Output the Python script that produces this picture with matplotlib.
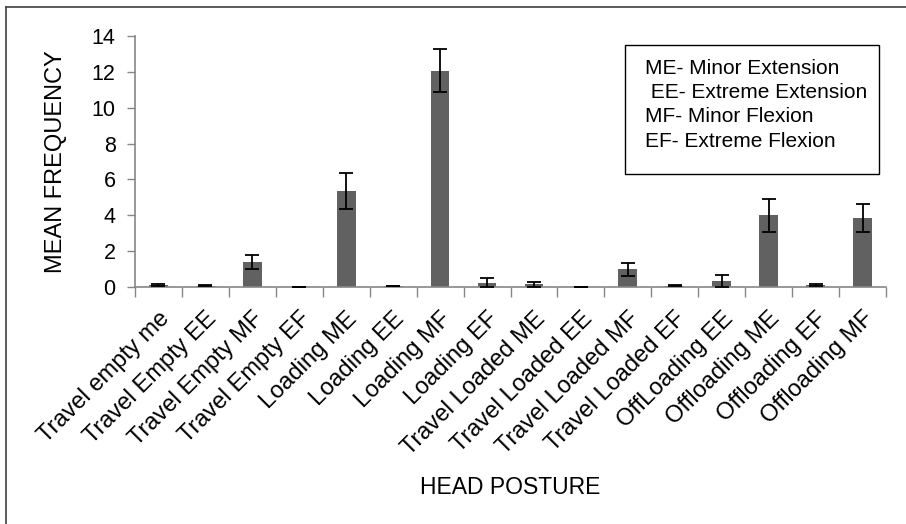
import matplotlib.pyplot as plt
from matplotlib.lines import Line2D
from matplotlib.patches import Rectangle
from matplotlib.transforms import ScaledTranslation
import numpy as np

# Data
categories = ['Travel empty me', 'Travel Empty EE', 'Travel Empty MF', 'Travel Empty EF',
              'Loading ME', 'Loading EE', 'Loading MF', 'Loading EF',
              'Travel Loaded ME', 'Travel Loaded EE', 'Travel Loaded MF', 'Travel Loaded EF',
              'OffLoading EE', 'Offloading ME', 'Offloading EF', 'Offloading MF']
means = [0.10, 0.08, 1.40, 0.02, 5.35, 0.05, 12.05, 0.25,
         0.15, 0.01, 0.98, 0.07, 0.35, 4.00, 0.10, 3.85]
errors = [0.06, 0.03, 0.40, 0.0, 1.02, 0.02, 1.20, 0.25,
          0.13, 0.0, 0.36, 0.04, 0.34, 0.92, 0.06, 0.80]
legend_lines = ['ME- Minor Extension', ' EE- Extreme Extension',
                'MF- Minor Flexion', 'EF- Extreme Flexion']

plt.rcParams['font.family'] = ['Liberation Sans', 'DejaVu Sans']

fig = plt.figure(figsize=(9.06, 5.24), dpi=100)
ax = fig.add_axes([135/906, 1-287/524, 751/906, 251/524])

x = np.arange(len(categories))
ax.bar(x, means, width=0.4, color='#616161', zorder=2)
ax.errorbar(x, means, yerr=errors, fmt='none', ecolor='black',
            elinewidth=1.3, capsize=5, capthick=1.3, zorder=3)

ax.set_xlim(-0.5, len(categories) - 0.5)
ax.set_ylim(0, 14)
ax.set_yticks(np.arange(0, 15, 2))

# category tick marks sit between bars
ax.set_xticks(np.arange(-0.5, len(categories), 1.0))
ax.set_xticklabels([])
ax.set_xticks(x, minor=True)
ax.set_xticklabels(categories, minor=True, rotation=45, ha='right',
                   rotation_mode='anchor', fontsize=17)
shift = ScaledTranslation(-0.06, 0, fig.dpi_scale_trans)
for lbl in ax.get_xticklabels(minor=True):
    lbl.set_transform(lbl.get_transform() + shift)
ax.tick_params(axis='x', which='minor', length=0, pad=15)
ax.tick_params(axis='x', which='major', length=7, color='#868686', width=1)
ax.tick_params(axis='y', length=6, color='#868686', width=1, labelsize=15.5, pad=8)

for side in ['top', 'right']:
    ax.spines[side].set_visible(False)
for side in ['left', 'bottom']:
    ax.spines[side].set_color('#868686')
    ax.spines[side].set_linewidth(1.2)

ax.set_ylabel('MEAN FREQUENCY', fontsize=17, labelpad=18)
fig.text(510/906, 1-487/524, 'HEAD POSTURE', fontsize=16.5, ha='center', va='center')

# text box with abbreviations
fig.add_artist(Rectangle((625/906, 1-174/524), 254/906, 129/524,
                         transform=fig.transFigure, fill=False,
                         edgecolor='black', linewidth=1))
for i, line in enumerate(legend_lines):
    fig.text(645/906, 1-(68 + i*24.5)/524, line, fontsize=15, va='center')

# outer frame (left and top edges)
fig.add_artist(Line2D([6/906, 6/906], [0, 1-7/524], transform=fig.transFigure,
                      color='#404040', linewidth=1.2))
fig.add_artist(Line2D([6/906, 1], [1-7/524, 1-7/524], transform=fig.transFigure,
                      color='#404040', linewidth=1.2))

plt.savefig('out.png', dpi=100)
